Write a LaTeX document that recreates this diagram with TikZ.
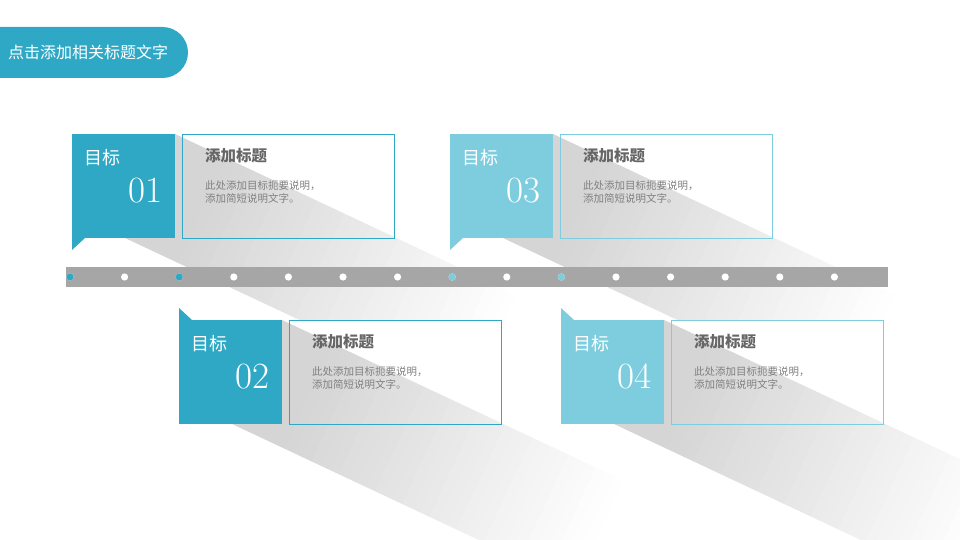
\documentclass[tikz,border=0pt]{standalone}
\usepackage{fontspec}
\newfontfamily\cjk{Noto Sans CJK SC}
\definecolor{tealA}{HTML}{2EA8C5}
\definecolor{tealB}{HTML}{7ECDDF}
\definecolor{bargray}{HTML}{A6A6A6}
\definecolor{headgray}{HTML}{666666}
\definecolor{descgray}{HTML}{808080}

\begin{document}
\begin{tikzpicture}[x=1pt,y=-1pt,
    goal/.style={fill=#1, minimum width=103pt, minimum height=104pt, inner sep=0pt, anchor=north west},
    note/.style={draw=#1, line width=0.6pt, minimum width=212pt, minimum height=104pt, inner sep=0pt, anchor=north west},
    fadeaxes/.style={x={(0.905pt,-0.425pt)}, y={(-0.425pt,-0.905pt)}},
    goaltag/.style={text=white, font=\cjk\fontsize{18}{18}\selectfont, inner sep=0pt},
    goalnum/.style={text=white, font=\fontsize{37}{37}\selectfont, inner sep=0pt},
    heading/.style={text=headgray, font=\cjk\bfseries\fontsize{15.5}{15.5}\selectfont, inner sep=0pt},
    desc/.style={text=descgray, font=\cjk\fontsize{10.5}{13}\selectfont, align=left, inner sep=0pt}]
    \useasboundingbox (0,0) rectangle (960,540);
    \clip (0,0) rectangle (960,540);

    % title tab
    \fill[tealA, rounded corners=25.5pt] (-40,27) rectangle (188,78);
    \node[anchor=west, text=white, font=\cjk\fontsize{16}{16}\selectfont, inner sep=0pt] (title) at (8,52) {点击添加相关标题文字};

    % cards
    \foreach \n/\sx/\sy/\c/\tip in {01/72/134/tealA/1, 03/450/134/tealB/1, 02/179/320/tealA/-1, 04/561/320/tealB/-1} {
        \fill[white] (\sx+110,\sy) rectangle ++(212,104);
        % long shadow, fading in strips along its own direction
        \pgfmathsetmacro\sa{0.905*\sx+0.425*\sy+150}
        \pgfmathsetmacro\ua{-0.425*\sx+0.905*\sy-70}
        \begin{scope}
            \clip (\sx+103,\sy) -- ++(500,235) -- (\sx+553,\sy+339) -- (\sx+53,\sy+104) -- cycle;
            \begin{scope}[fadeaxes]
                \fill[black!16.5] (\sa-200,\ua) -- ++(200.5,0) -- ++(0,170) -- ++(-200.5,0) -- cycle;
                \foreach \k in {0,...,31} {
                    \pgfmathsetmacro\p{16.5*(1-(\k+0.5)/32)}
                    \fill[black!\p] (\sa+10*\k,\ua) -- ++(10.5,0) -- ++(0,170) -- ++(-10.5,0) -- cycle;
                }
            \end{scope}
        \end{scope}
        \node[goal=\c] (goal\n) at (\sx,\sy) {};
        \fill[\c] (\sx,\sy+52+52*\tip) -- ++(0,12*\tip) -- ++(13,-12*\tip) -- cycle;
        \node[note=\c] (box\n) at (\sx+110,\sy) {};
        \node[goaltag, anchor=west] (tag\n) at (\sx+12,\sy+24) {目标};
        \node[goalnum, anchor=base east] (num\n) at (\sx+91,\sy+68) {\n};
        \node[heading, anchor=west] (head\n) at (\sx+133,\sy+22) {添加标题};
        \node[desc, anchor=north west] (desc\n) at (\sx+133,\sy+46.5) {此处添加目标扼要说明，\\添加简短说明文字。};
    }

    % timeline
    \fill[bargray] (66,267) rectangle (888,287);
    \foreach \i in {0,...,14} {
        \fill[white] (70+54.6*\i,277) circle (3.6pt);
    }
    \foreach \i/\c in {0/tealA, 2/tealA, 7/tealB, 9/tealB} {
        \fill[\c] (70+54.6*\i,277) circle (3.6pt);
    }
\end{tikzpicture}
\end{document}
